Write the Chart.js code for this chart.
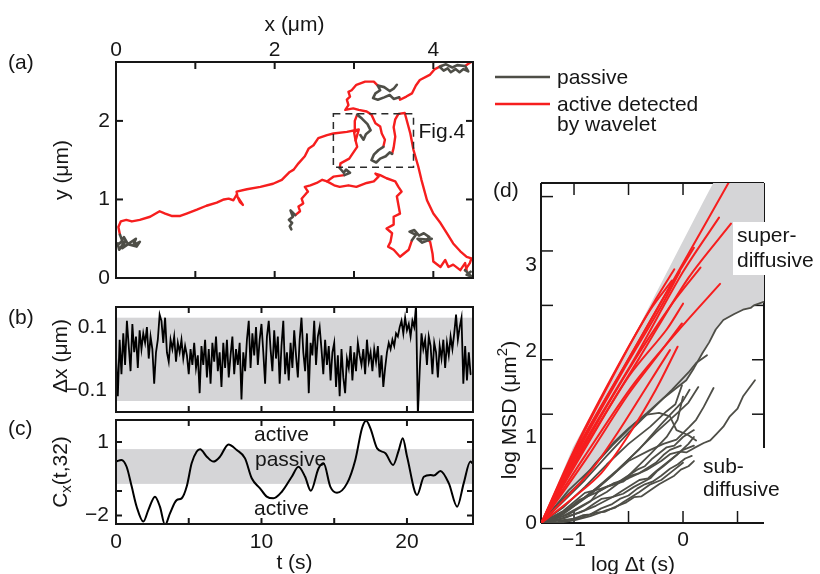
<!DOCTYPE html>
<html lang="en">
<head>
    <meta charset="UTF-8">
    <title>Trajectory, displacement, wavelet and MSD</title>
    <style>
        body {
            margin: 0;
            background-color: #ffffff;
        }
        .figure {
            position: relative;
            width: 820px;
            height: 574px;
        }
        .figure canvas {
            position: absolute;
            left: 0;
            top: 0;
        }
    </style>
</head>
<body>
    <div class="figure">
        <canvas id="trackChart" width="820" height="574"></canvas>
        <canvas id="dxChart" width="820" height="574"></canvas>
        <canvas id="cxChart" width="820" height="574"></canvas>
        <canvas id="msdChart" width="820" height="574"></canvas>
    </div>

    <script src="https://cdn.jsdelivr.net/npm/chart.js"></script>
    <script>
        // ---------- (a) trajectory in the plane, in um ----------
        const trackXTicks = [1, 2, 3, 4];
        const trackXLabels = [0, 2, 4];
        const trackYTicks = [1, 2];
        const trackYLabels = [0, 1, 2];
        const fig4Box = [2.74, 1.41, 3.75, 2.09];

        const passiveSegments = [
            [[0.05,0.55],[0.08,0.47],[0.0,0.41],[0.06,0.45],[0.1,0.52],[0.15,0.43],[0.26,0.40],[0.3,0.46],[0.22,0.42],[0.25,0.5],[0.18,0.45],[0.08,0.38],[0.12,0.48],[0.04,0.36],[0.02,0.44]],
            [[2.26,0.8],[2.2,0.86],[2.23,0.78],[2.18,0.74],[2.22,0.7],[2.19,0.66],[2.21,0.62]],
            [[2.82,1.40],[2.87,1.34],[2.9,1.38],[2.95,1.34],[2.88,1.31]],
            [[3.04,2.08],[3.1,2.03],[3.17,1.96],[3.21,1.88],[3.15,1.83],[3.12,1.76],[3.08,1.82]],
            [[3.37,1.67],[3.31,1.63],[3.25,1.57],[3.22,1.50],[3.28,1.47],[3.33,1.52],[3.4,1.55],[3.45,1.6],[3.48,1.58]],
            [[3.54,2.46],[3.5,2.41],[3.45,2.38],[3.38,2.43],[3.3,2.45],[3.33,2.39],[3.27,2.35],[3.24,2.29],[3.3,2.27],[3.38,2.3],[3.45,2.33],[3.5,2.28],[3.57,2.3]],
            [[4.08,2.69],[4.13,2.64],[4.18,2.67],[4.22,2.62],[4.28,2.66],[4.33,2.62],[4.38,2.66],[4.44,2.63],[4.4,2.7],[4.3,2.71],[4.24,2.68],[4.16,2.72],[4.1,2.70]],
            [[3.73,0.48],[3.78,0.55],[3.7,0.59],[3.76,0.61],[3.82,0.54],[3.88,0.57],[3.95,0.52],[3.9,0.47],[3.98,0.5],[3.86,0.45],[3.8,0.5],[3.92,0.49]],
            [[4.4,0.10],[4.45,0.05],[4.48,0.02],[4.42,0.04],[4.47,0.08]]
        ];

        const activeSegments = [
            [[0.05,0.55],[0.03,0.65],[0.06,0.72],[0.13,0.74],[0.2,0.72],[0.3,0.74],[0.43,0.78],[0.55,0.85],[0.62,0.82],[0.7,0.79],[0.81,0.79],[0.89,0.82],[1.02,0.87],[1.14,0.92],[1.27,0.96],[1.36,1.0],[1.42,1.01],[1.48,0.99],[1.52,1.06],[1.56,0.97],[1.6,0.93],[1.53,1.04],[1.52,1.1],[1.65,1.13],[1.82,1.16],[1.98,1.2],[2.09,1.25],[2.19,1.35],[2.24,1.38],[2.3,1.46],[2.38,1.55],[2.43,1.65],[2.49,1.69],[2.55,1.78],[2.66,1.82],[2.74,1.84],[2.91,1.86],[3.06,1.89],[3.02,1.75],[3.04,1.67],[2.98,1.58],[2.94,1.52],[2.83,1.46],[2.82,1.40]],
            [[2.88,1.31],[2.74,1.29],[2.66,1.23],[2.6,1.25],[2.53,1.21],[2.45,1.18],[2.38,1.16],[2.42,1.1],[2.4,1.08],[2.34,1.01],[2.36,0.95],[2.3,0.91],[2.32,0.85],[2.26,0.8]],
            [[2.66,1.23],[2.75,1.18],[2.82,1.16],[2.93,1.18],[3.03,1.16],[3.16,1.21],[3.25,1.23],[3.31,1.29],[3.27,1.33],[3.33,1.31],[3.41,1.27],[3.52,1.23],[3.56,1.16],[3.6,1.1],[3.54,1.04],[3.56,0.93],[3.58,0.82],[3.5,0.78],[3.5,0.68],[3.41,0.63],[3.48,0.57],[3.46,0.46],[3.43,0.4],[3.5,0.36],[3.58,0.27],[3.69,0.36],[3.73,0.48]],
            [[3.92,0.49],[3.96,0.46],[3.99,0.31],[4.0,0.21],[4.09,0.14],[4.15,0.23],[4.19,0.14],[4.25,0.17],[4.34,0.1],[4.4,0.19],[4.42,0.1],[4.4,0.10]],
            [[3.48,1.58],[3.5,1.66],[3.52,1.8],[3.5,1.92],[3.52,2.02],[3.56,2.09],[3.64,2.1],[3.71,1.84],[3.75,1.63],[3.81,1.42],[3.85,1.25],[3.92,0.99],[4.0,0.82],[4.09,0.7],[4.17,0.57],[4.25,0.44],[4.34,0.34],[4.42,0.27],[4.48,0.25],[4.46,0.19],[4.4,0.10]],
            [[3.3,2.45],[3.25,2.5],[3.14,2.5],[3.03,2.46],[2.97,2.39],[2.93,2.37],[2.95,2.31],[2.91,2.27],[2.93,2.2],[2.89,2.14],[2.99,2.16],[3.06,2.14],[3.16,2.12],[3.22,2.08],[3.27,1.97],[3.33,1.93],[3.35,1.84],[3.39,1.76],[3.37,1.67]],
            [[3.57,2.3],[3.58,2.27],[3.66,2.31],[3.73,2.35],[3.78,2.45],[3.83,2.52],[3.96,2.59],[4.02,2.66],[4.1,2.70]],
            [[4.4,2.7],[4.46,2.74],[4.5,2.76]],
            [[3.02,1.75],[3.0,1.86],[3.01,2.0],[3.04,2.08]]
        ];

        // ---------- (b) x displacement, um, one sample every 0.125 s ----------
        const dxSampleDt = 0.125;
        const dxTrace = [
            0.01, -0.12, 0.06, -0.05, 0.08, -0.02, 0.12, 0.04,
            -0.04, 0.11, 0.02, 0.07, -0.03, 0.09, 0.03, 0.08,
            0.05, 0.10, 0.00, 0.07, 0.03, -0.08, 0.02, 0.06,
            0.14, 0.12, 0.05, 0.13, 0.02, -0.01, 0.06, 0.03,
            0.07, -0.01, 0.05, 0.02, 0.06, 0.00, 0.04, 0.01,
            -0.05, 0.03, -0.02, 0.05, -0.03, 0.01, -0.11, 0.04,
            -0.02, 0.06, -0.06, 0.03, -0.08, 0.05, -0.01, 0.07,
            -0.04, 0.02, -0.09, 0.05, -0.03, 0.06, -0.06, 0.01,
            0.07, -0.05, 0.03, -0.02, 0.05, -0.13, 0.02, -0.04,
            0.06, 0.12, -0.03, 0.08, 0.01, 0.10, -0.02, 0.06,
            0.11, 0.02, -0.08, 0.07, 0.12, 0.03, -0.04, 0.09,
            0.00, 0.07, -0.08, 0.04, 0.12, -0.05, 0.02, -0.07,
            0.05, -0.03, 0.09, 0.01, -0.06, 0.06, 0.13, 0.02,
            -0.04, 0.08, -0.11, 0.05, 0.01, 0.12, -0.02, 0.07,
            0.10, 0.03, -0.05, 0.06, -0.02, 0.04, -0.07, 0.02,
            0.05, -0.09, 0.01, -0.12, 0.03, -0.06, -0.11, 0.00,
            -0.03, 0.04, -0.07, 0.02, -0.04, 0.05, 0.01, -0.02,
            0.03, -0.05, 0.06, -0.01, 0.02, -0.04, 0.03, -0.01,
            0.04, -0.06, 0.01, -0.09, -0.03, 0.02, 0.05, 0.03,
            0.06, 0.04, 0.08, 0.07, 0.10, 0.12, 0.08, 0.13,
            0.09, 0.11, 0.07, 0.12, 0.10, 0.17, -0.18, -0.04,
            0.08, 0.03, 0.06, -0.02, 0.07, 0.04, -0.05, 0.05,
            0.02, -0.06, 0.04, 0.00, 0.06, -0.03, 0.05, 0.01,
            0.07, 0.03, 0.08, 0.14, 0.06, 0.10, 0.13, -0.08,
            0.04, -0.07, 0.02, -0.05
        ];
        const dxBand = [-0.135, 0.13];
        const dxYLabels = [0.1, -0.1];
        const timeTicks = [5, 10, 15, 20];
        const timeLabels = [0, 10, 20];

        // ---------- (c) wavelet coefficient C_x(t,32) ----------
        const cxTime = [0, 0.38, 0.73, 1.08, 1.42, 1.88, 2.22, 2.68, 3.02, 3.37, 3.71, 4.17, 4.51, 4.86, 5.2, 5.55, 5.78, 6.24, 6.7, 7.15,
            7.73, 8.3, 8.87, 9.33, 9.9, 10.36, 10.82, 11.4, 12.08, 12.54, 13.0, 13.39, 13.92, 14.27, 14.73, 15.19, 15.88, 16.45, 16.91,
            17.19, 17.49, 17.95, 18.52, 19.05, 19.44, 19.71, 20.01, 20.7, 21.16, 21.62, 21.85, 22.3, 22.88, 23.45, 23.9, 24.36, 24.5];
        const cxValue = [0.2, 0.27, -0.01, -0.82, -1.64, -2.25, -1.78, -1.23, -1.64, -2.39, -1.91, -1.37, -1.3, -0.82, 0.13, 0.61, 0.7, 0.4, 0.2, 0.4,
            0.9, 0.67, 0.33, -0.48, -0.89, -1.23, -1.3, -1.03, -0.42, -0.01, -0.42, -0.99, -0.08, 0.13, -0.82, -1.07, -0.69, 0.27, 1.56,
            1.87, 1.56, 0.74, 0.54, 0.06, 0.67, 1.15, 0.4, -1.16, -0.42, -0.35, -0.37, -0.18, -0.69, -1.64, -0.69, 0.2, 0.13];
        const cxBand = [-0.71, 0.71];
        const cxYTicks = [1, -1, -2];
        const cxYLabels = [1, -2];

        // ---------- (d) log MSD vs log lag ----------
        const msdXTicks = [-1, -0.5, 0, 0.5];
        const msdXLabels = [-1, 0];
        const msdYTicks = [0, 0.633, 1.265, 1.898, 2.53, 3.163, 3.795];
        const msdYLabels = [0, 1, 2, 3];

        const superCurves = [
            [[-1.3,0],[-0.96,0.89],[-0.49,1.93],[0.0,3.02],[0.46,4.05]],
            [[-1.3,0],[-0.94,0.86],[-0.45,1.9],[0.0,2.92],[0.33,3.55]],
            [[-1.3,0],[-0.92,0.84],[-0.4,1.92],[0.05,2.85],[0.44,3.48]],
            [[-1.3,0],[-0.93,0.85],[-0.5,1.78],[-0.1,2.55],[0.16,2.97]],
            [[-1.3,0],[-0.95,0.87],[-0.55,1.77],[-0.2,2.52],[-0.03,2.92]],
            [[-1.3,0],[-0.9,0.78],[-0.45,1.62],[0.0,2.3],[0.34,2.78]],
            [[-1.3,0],[-0.92,0.82],[-0.5,1.7],[-0.15,2.25],[0.0,2.55]],
            [[-1.3,0],[-0.88,0.76],[-0.5,1.5],[-0.2,2.0],[-0.01,2.32]],
            [[-1.3,0],[-0.85,0.6],[-0.6,1.05],[-0.35,1.55],[-0.12,2.01]],
            [[-1.3,0],[-0.97,0.9],[-0.56,1.9],[-0.25,2.6],[-0.08,2.95]],
            [[-1.3,0],[-1.0,0.3],[-0.75,0.58],[-0.5,1.02],[-0.25,1.55],[-0.05,2.05]],
            [[-1.3,0],[-0.98,0.9],[-0.6,1.82],[-0.3,2.48],[-0.1,2.82]],
            [[-1.3,0],[-0.96,0.88],[-0.52,1.86],[-0.15,2.68],[0.1,3.2]]
        ];

        // upper passive curve, also the lower edge of the super-diffusive region
        const topPassiveCurve = [[-1.3,0],[-1.15,0.22],[-0.95,0.46],[-0.8,0.7],[-0.64,0.93],[-0.5,1.1],[-0.33,1.28],[-0.18,1.45],[0.03,1.66],[0.1,1.8],[0.18,1.98],[0.24,2.1],[0.3,2.25],[0.37,2.36],[0.47,2.43],[0.55,2.48],[0.62,2.5],[0.65,2.53],[0.74,2.57]];
        const superEdge = [[-1.3,0],[-1.01,0.88],[-0.55,1.93],[0.18,3.72],[0.28,3.96],[0.76,3.96],[0.76,2.57]];

        const subCurves = [
            [[-1.3,0],[-1.1,0.25],[-0.9,0.5],[-0.7,0.78],[-0.5,1.05],[-0.3,1.3],[-0.1,1.55],[0.05,1.75],[0.12,1.86],[0.22,1.95]],
            [[-1.3,0],[-1.1,0.12],[-0.95,0.27],[-0.8,0.35],[-0.64,0.46],[-0.5,0.52],[-0.33,0.62],[-0.2,0.72],[-0.12,0.8],[-0.03,0.83],[0.03,0.82],[0.1,0.87],[0.19,0.93],[0.25,0.96],[0.31,1.04],[0.37,1.12],[0.43,1.24],[0.5,1.33],[0.55,1.47],[0.66,1.66]],
            [[-1.3,0],[-1.1,0.1],[-0.9,0.3],[-0.7,0.5],[-0.5,0.72],[-0.3,0.85],[-0.18,0.92],[-0.06,0.97],[0.06,1.12],[0.12,1.2],[0.19,1.35],[0.28,1.57]],
            [[-1.3,0],[-1.05,0.38],[-0.85,0.62],[-0.65,0.9],[-0.45,1.15],[-0.33,1.26],[-0.22,1.28],[-0.12,1.24],[-0.06,1.08],[0.05,1.02],[0.12,0.96]],
            [[-1.3,0],[-1.1,0.18],[-0.9,0.42],[-0.7,0.68],[-0.5,0.92],[-0.3,1.12],[-0.15,1.3],[-0.07,1.38],[-0.01,1.6]],
            [[-1.3,0],[-1.0,0.2],[-0.8,0.4],[-0.6,0.62],[-0.4,0.86],[-0.2,1.15],[-0.05,1.35],[0.0,1.42],[0.06,1.55]],
            [[-1.3,0],[-1.05,0.15],[-0.85,0.33],[-0.65,0.55],[-0.45,0.8],[-0.25,1.05],[-0.05,1.28],[0.05,1.4],[0.14,1.58]],
            [[-1.3,0],[-1.1,0.08],[-0.9,0.22],[-0.7,0.36],[-0.5,0.55],[-0.3,0.8],[-0.15,1.0],[-0.05,1.2],[0.0,1.47]],
            [[-1.3,0],[-1.15,0.01],[-1.07,0.03],[-0.95,0.06],[-0.8,0.12],[-0.72,0.13],[-0.6,0.2],[-0.52,0.24],[-0.45,0.3],[-0.38,0.31],[-0.3,0.38],[-0.22,0.45],[-0.15,0.5],[-0.08,0.55],[-0.02,0.62],[0.05,0.66],[0.1,0.72]],
            [[-1.3,0],[-1.0,0.05],[-0.92,0.09],[-0.85,0.1],[-0.75,0.17],[-0.65,0.22],[-0.58,0.28],[-0.5,0.32],[-0.42,0.4],[-0.35,0.45],[-0.28,0.48],[-0.2,0.55],[-0.12,0.63],[-0.05,0.68],[0.02,0.75],[0.08,0.78]],
            [[-1.3,0],[-1.1,0.05],[-0.9,0.15],[-0.82,0.22],[-0.75,0.28],[-0.65,0.3],[-0.55,0.38],[-0.4,0.5],[-0.32,0.52],[-0.25,0.6],[-0.1,0.75],[0.0,0.85],[0.1,0.9]],
            [[-1.3,0],[-1.05,0.1],[-0.85,0.25],[-0.78,0.36],[-0.7,0.42],[-0.55,0.48],[-0.48,0.55],[-0.4,0.58],[-0.25,0.7],[-0.18,0.79],[-0.12,0.85],[-0.02,0.9]],
            [[-1.3,0],[-1.15,0.04],[-0.95,0.12],[-0.8,0.2],[-0.65,0.3],[-0.55,0.34],[-0.45,0.42],[-0.3,0.52],[-0.24,0.6],[-0.18,0.66],[-0.05,0.8],[0.05,0.92],[0.1,1.0]],
            [[-1.3,0],[-1.1,0.14],[-0.9,0.35],[-0.75,0.4],[-0.6,0.47],[-0.42,0.62],[-0.35,0.66],[-0.28,0.75],[-0.15,0.88],[-0.08,0.9],[0.0,1.0],[0.1,1.08]],
            [[-1.3,0],[-1.15,0.0],[-1.0,0.03],[-0.85,0.08],[-0.7,0.15],[-0.62,0.18],[-0.55,0.24],[-0.4,0.36],[-0.3,0.45],[-0.2,0.5],[-0.1,0.6],[0.0,0.7]]
        ];

        // ---------- drawing helpers ----------
        const FONT = '21px "Liberation Sans", Arial, sans-serif';
        const SMALL_FONT = '15px "Liberation Sans", Arial, sans-serif';
        const INK = '#161616';
        const RED = '#f61e1e';
        const GREY = '#4e4e47';
        const BAND = '#d5d5d7';

        function line(ctx, x0, y0, x1, y1) {
            ctx.beginPath();
            ctx.moveTo(x0, y0);
            ctx.lineTo(x1, y1);
            ctx.stroke();
        }

        function ticksX(ctx, scale, area, values, len) {
            values.forEach(v => {
                const px = scale.getPixelForValue(v);
                line(ctx, px, area.bottom, px, area.bottom - len);
                line(ctx, px, area.top, px, area.top + len);
            });
        }

        function ticksY(ctx, scale, area, values, len) {
            values.forEach(v => {
                const py = scale.getPixelForValue(v);
                line(ctx, area.left, py, area.left + len, py);
                line(ctx, area.right, py, area.right - len, py);
            });
        }

        function text(ctx, str, x, y, align = 'center', base = 'middle') {
            ctx.font = FONT;
            ctx.fillStyle = INK;
            ctx.textAlign = align;
            ctx.textBaseline = base;
            ctx.fillText(str, x, y);
        }

        // mixed text with sub/superscripts, optionally turned to read upwards
        function richText(ctx, parts, cx, cy, rotated) {
            ctx.save();
            ctx.translate(cx, cy);
            if (rotated) ctx.rotate(-Math.PI / 2);
            ctx.fillStyle = INK;
            ctx.textAlign = 'left';
            ctx.textBaseline = 'middle';
            let total = 0;
            parts.forEach(p => {
                ctx.font = p.small ? SMALL_FONT : FONT;
                total += ctx.measureText(p.text).width;
            });
            let x = -total / 2;
            parts.forEach(p => {
                ctx.font = p.small ? SMALL_FONT : FONT;
                ctx.fillText(p.text, x, p.shift || 0);
                x += ctx.measureText(p.text).width;
            });
            ctx.restore();
        }

        function frame(ctx, area, width) {
            ctx.lineWidth = width;
            ctx.strokeStyle = INK;
            ctx.strokeRect(area.left, area.top, area.right - area.left, area.bottom - area.top);
        }

        function pathSet(points, color, width, extra) {
            return Object.assign({
                data: points.map(p => ({ x: p[0], y: p[1] })),
                showLine: true,
                borderColor: color,
                borderWidth: width,
                pointRadius: 0,
                fill: false,
                borderJoinStyle: 'round',
                borderCapStyle: 'round'
            }, extra || {});
        }

        function makePanel(id, box, xRange, yRange, datasets, decor) {
            return new Chart(document.getElementById(id), {
                type: 'scatter',
                data: { datasets: datasets },
                options: {
                    responsive: false,
                    animation: false,
                    devicePixelRatio: 1,
                    events: [],
                    layout: { padding: { left: box[0], top: box[1], right: 820 - box[2], bottom: 574 - box[3] } },
                    plugins: { legend: { display: false }, tooltip: { enabled: false } },
                    scales: {
                        x: { type: 'linear', min: xRange[0], max: xRange[1], display: false },
                        y: { type: 'linear', min: yRange[0], max: yRange[1], display: false }
                    },
                    elements: { point: { radius: 0 }, line: { tension: 0 } }
                },
                plugins: [decor]
            });
        }

        // ---------- (a) ----------
        const trackDecor = {
            id: 'trackDecor',
            afterDatasetsDraw(chart) {
                const { ctx, chartArea: a, scales: { x, y } } = chart;
                ctx.save();
                ctx.setLineDash([7, 5]);
                ctx.lineWidth = 1.5;
                ctx.strokeStyle = '#2a2a2a';
                const bx0 = x.getPixelForValue(fig4Box[0]), bx1 = x.getPixelForValue(fig4Box[2]);
                const by0 = y.getPixelForValue(fig4Box[1]), by1 = y.getPixelForValue(fig4Box[3]);
                ctx.strokeRect(bx0, by1, bx1 - bx0, by0 - by1);
                ctx.setLineDash([]);
                frame(ctx, a, 2);
                ticksX(ctx, x, a, trackXTicks, 7);
                ticksY(ctx, y, a, trackYTicks, 7);
                trackXLabels.forEach(v => text(ctx, String(v), x.getPixelForValue(v), 50));
                trackYLabels.forEach(v => text(ctx, String(v), 110, y.getPixelForValue(v), 'right'));
                text(ctx, 'x (\u03bcm)', (a.left + a.right) / 2, 25);
                text(ctx, '(a)', 8, 63, 'left');
                richText(ctx, [{ text: 'y (\u03bcm)' }], 62, (a.top + a.bottom) / 2, true);
                text(ctx, 'Fig.4', bx1 + 5, 132, 'left');

                // legend
                ctx.lineWidth = 2.5;
                ctx.strokeStyle = GREY;
                line(ctx, 495, 77, 550, 77);
                ctx.strokeStyle = RED;
                line(ctx, 495, 104, 550, 104);
                text(ctx, 'passive', 557, 78, 'left');
                text(ctx, 'active detected', 557, 105, 'left');
                text(ctx, 'by wavelet', 557, 125, 'left');
                ctx.restore();
            }
        };

        makePanel('trackChart', [116, 62, 473, 278], [0, 4.5], [0, 2.75],
            passiveSegments.map(s => pathSet(s, GREY, 2.6))
                .concat(activeSegments.map(s => pathSet(s, RED, 2.4))),
            trackDecor);

        // ---------- (b) ----------
        const dxDecor = {
            id: 'dxDecor',
            beforeDatasetsDraw(chart) {
                const { ctx, chartArea: a, scales: { y } } = chart;
                const top = y.getPixelForValue(dxBand[1]);
                const bottom = y.getPixelForValue(dxBand[0]);
                ctx.save();
                ctx.fillStyle = BAND;
                ctx.fillRect(a.left, top, a.right - a.left, bottom - top);
                ctx.restore();
            },
            afterDatasetsDraw(chart) {
                const { ctx, chartArea: a, scales: { x, y } } = chart;
                ctx.save();
                frame(ctx, a, 2);
                ticksX(ctx, x, a, timeTicks, 6);
                dxYLabels.forEach(v => text(ctx, v < 0 ? '\u2212' + Math.abs(v) : String(v), 107, y.getPixelForValue(v), 'right'));
                text(ctx, '(b)', 8, 318, 'left');
                richText(ctx, [{ text: '\u0394x (\u03bcm)' }], 61, 356, true);
                ctx.restore();
            }
        };

        makePanel('dxChart', [116, 307, 473, 412], [0, 24.54], [-0.17, 0.164],
            [pathSet(dxTrace.map((v, i) => [i * dxSampleDt, v]), '#000000', 1.8, { clip: 0, borderJoinStyle: 'miter' })],
            dxDecor);

        // ---------- (c) ----------
        const cxDecor = {
            id: 'cxDecor',
            beforeDatasetsDraw(chart) {
                const { ctx, chartArea: a, scales: { y } } = chart;
                const top = y.getPixelForValue(cxBand[1]);
                const bottom = y.getPixelForValue(cxBand[0]);
                ctx.save();
                ctx.fillStyle = BAND;
                ctx.fillRect(a.left, top, a.right - a.left, bottom - top);
                text(ctx, 'active', 254, 441, 'left', 'alphabetic');
                text(ctx, 'passive', 255, 466, 'left', 'alphabetic');
                text(ctx, 'active', 254, 515, 'left', 'alphabetic');
                ctx.restore();
            },
            afterDatasetsDraw(chart) {
                const { ctx, chartArea: a, scales: { x, y } } = chart;
                ctx.save();
                frame(ctx, a, 2);
                ticksX(ctx, x, a, timeTicks, 6);
                ticksY(ctx, y, a, cxYTicks, 6);
                cxYLabels.forEach(v => text(ctx, v < 0 ? '\u2212' + Math.abs(v) : String(v), 109, y.getPixelForValue(v), 'right'));
                timeLabels.forEach(v => text(ctx, String(v), x.getPixelForValue(v), 542));
                text(ctx, 't (s)', (a.left + a.right) / 2, 563);
                text(ctx, '(c)', 8, 429, 'left');
                richText(ctx, [{ text: 'C' }, { text: 'x', small: true, shift: 6 }, { text: '(t,32)' }], 61, 472, true);
                ctx.restore();
            }
        };

        makePanel('cxChart', [116, 420, 473, 524], [0, 24.54], [-2.347, 1.898],
            [pathSet(cxTime.map((t, i) => [t, cxValue[i]]), '#000000', 2, { clip: 0, cubicInterpolationMode: 'monotone' })],
            cxDecor);

        // ---------- (d) ----------
        const msdDecor = {
            id: 'msdDecor',
            beforeDatasetsDraw(chart) {
                const { ctx, chartArea: a, scales: { x, y } } = chart;
                ctx.save();
                ctx.lineWidth = 2;
                ctx.strokeStyle = INK;
                line(ctx, a.left, a.top, a.right, a.top);
                line(ctx, a.left, a.top, a.left, a.bottom);
                line(ctx, a.left, a.bottom, a.right, a.bottom);
                line(ctx, a.right, a.top, a.right, 448);
                ctx.lineWidth = 1.5;
                ticksX(ctx, x, a, msdXTicks, 12);
                ticksY(ctx, y, a, msdYTicks, 12);
                ctx.restore();
            },
            afterDatasetsDraw(chart) {
                const { ctx, chartArea: a, scales: { x, y } } = chart;
                ctx.save();
                ctx.fillStyle = '#ffffff';
                ctx.fillRect(733, 222, 87, 53);
                ctx.fillRect(699, 450, 90, 52);
                text(ctx, 'super-', 737, 236, 'left');
                text(ctx, 'diffusive', 737, 261, 'left');
                text(ctx, 'sub-', 703, 467, 'left');
                text(ctx, 'diffusive', 703, 490, 'left');
                msdYLabels.forEach(v => text(ctx, String(v), 537, y.getPixelForValue(v), 'right'));
                msdXLabels.forEach(v => text(ctx, v < 0 ? '\u2212' + Math.abs(v) : String(v), x.getPixelForValue(v), 540));
                text(ctx, 'log \u0394t (s)', 633, 565);
                text(ctx, '(d)', 493, 191, 'left');
                richText(ctx, [{ text: 'log MSD (\u03bcm' }, { text: '2', small: true, shift: -7 }, { text: ')' }], 510, 410, true);
                ctx.restore();
            }
        };

        const superRegion = superEdge.concat(topPassiveCurve.slice().reverse());

        makePanel('msdChart', [541, 183, 764, 523], [-1.303, 0.743], [0, 3.953],
            superCurves.map(c => pathSet(c, RED, 2, { tension: 0.3 }))
                .concat(subCurves.map(c => pathSet(c, GREY, 1.8)))
                .concat([pathSet(topPassiveCurve, GREY, 1.8)])
                .concat([pathSet(superRegion, BAND, 0, { fill: 'shape', backgroundColor: BAND, order: 10 })]),
            msdDecor);
    </script>
</body>
</html>
